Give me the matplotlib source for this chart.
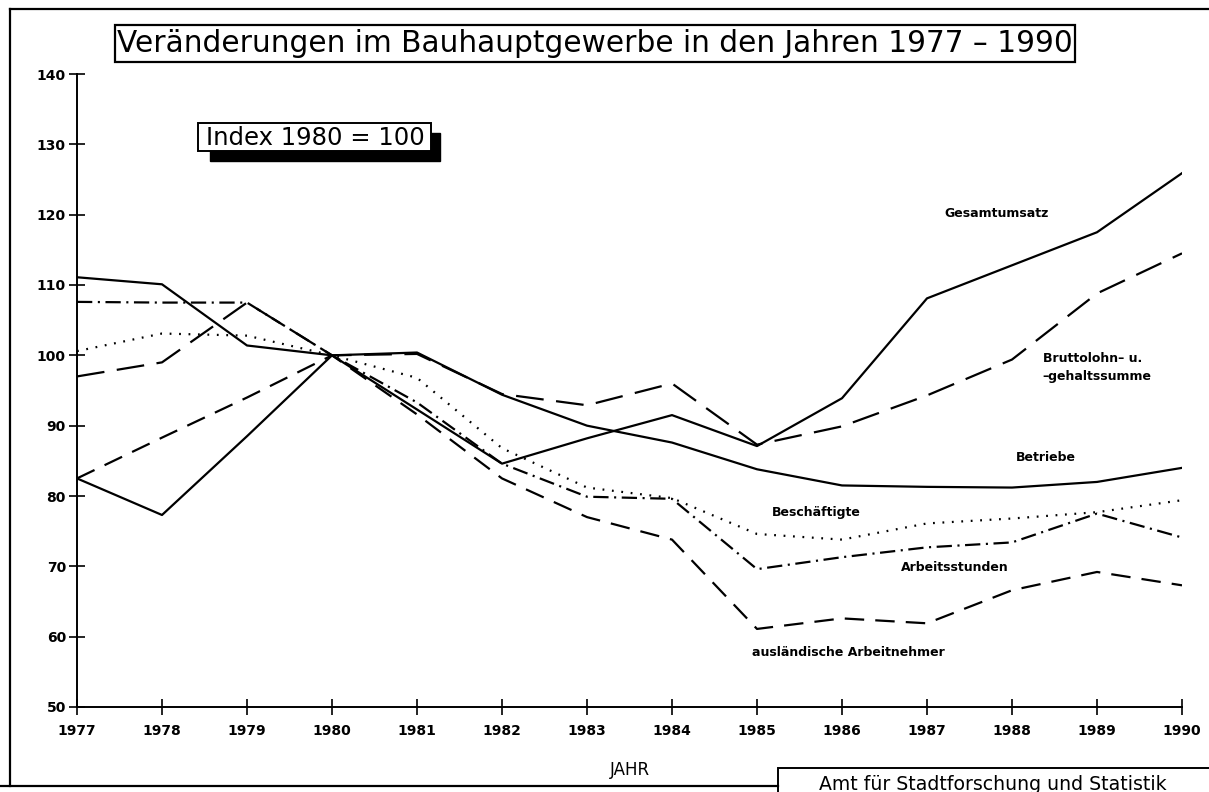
import matplotlib
matplotlib.use("Agg")
import matplotlib.pyplot as plt
from matplotlib.lines import Line2D
from matplotlib.patches import Rectangle

plt.rcParams['font.family'] = ['DejaVu Sans']
plt.rcParams['lines.scale_dashes'] = False

years = list(range(1977, 1991))
gesamtumsatz = [82.5, 77.3, 88.5, 100, 92.3, 84.6, 88.2, 91.5, 87.1, 93.9, 108.1, 112.8, 117.5, 125.9]
betriebe = [111.1, 110.1, 101.4, 100, 100.4, 94.4, 90.0, 87.6, 83.8, 81.5, 81.3, 81.2, 82.0, 84.0]
bruttolohn = [97.0, 99.0, 107.5, 100, 100.2, 94.5, 92.9, 96.0, 87.3, 89.9, 94.3, 99.4, 108.8, 114.5]
beschaeftigte = [100.6, 103.1, 102.8, 100, 96.8, 86.8, 81.2, 79.7, 74.6, 73.8, 76.1, 76.8, 77.7, 79.4]
arbeitsstunden = [107.6, 107.5, 107.5, 100, 93.3, 84.6, 79.9, 79.6, 69.6, 71.3, 72.7, 73.4, 77.5, 74.1]
auslaender = [82.5, 88.3, 94.0, 100, 91.6, 82.5, 77.0, 73.8, 61.1, 62.6, 61.9, 66.6, 69.2, 67.3]

y_ticks = [50, 60, 70, 80, 90, 100, 110, 120, 130, 140]
x_tick_labels = [str(y) for y in years]

title = "Veränderungen im Bauhauptgewerbe in den Jahren 1977 – 1990"
index_text = "Index 1980 = 100"
x_label = "JAHR"
source = "Amt für Stadtforschung und Statistik"

W, H = 1209, 792
fig = plt.figure(figsize=(W / 100, H / 100), dpi=100)
ax = fig.add_axes([77/W, 1 - 707/H, (1182 - 77)/W, (707 - 74)/H])


def fx(px):
    return px / W


def fy(py):
    return 1 - py / H


lw = 1.6
ax.plot(years, gesamtumsatz, color='black', lw=lw, ls='-')
ax.plot(years, betriebe, color='black', lw=lw, ls='-')
ax.plot(years, bruttolohn, color='black', lw=lw, ls=(0, (20, 9)))
ax.plot(years, beschaeftigte, color='black', lw=lw, ls=(0, (1.3, 5.5)))
ax.plot(years, arbeitsstunden, color='black', lw=lw, ls=(0, (11, 4, 1.5, 4)))
ax.plot(years, auslaender, color='black', lw=lw, ls=(0, (14, 8)))

lab_kw = dict(fontsize=9, fontweight='bold', color='black')
ax.text(1987.82, 120.2, "Gesamtumsatz", ha='center', va='center', **lab_kw)
ax.text(1988.36, 98.3, "Bruttolohn– u.\n–gehaltssumme", ha='left', va='center',
        linespacing=1.55, **lab_kw)
ax.text(1988.4, 85.5, "Betriebe", ha='center', va='center', **lab_kw)
ax.text(1985.7, 77.7, "Beschäftigte", ha='center', va='center', **lab_kw)
ax.text(1987.33, 69.9, "Arbeitsstunden", ha='center', va='center', **lab_kw)
ax.text(1986.07, 57.8, "ausländische Arbeitnehmer", ha='center', va='center', **lab_kw)

ax.set_xlim(1977, 1990)
ax.set_ylim(50, 140)
ax.set_yticks(y_ticks)
ax.set_yticklabels([str(v) for v in y_ticks], fontsize=10, fontweight='bold')
ax.set_xticks(years)
ax.set_xticklabels(x_tick_labels, fontsize=10, fontweight='bold')
ax.tick_params(axis='both', direction='inout', length=12, width=1.2, color='black')
ax.tick_params(axis='y', pad=2)
ax.tick_params(axis='x', pad=6)
for s in ['top', 'right']:
    ax.spines[s].set_visible(False)
for s in ['left', 'bottom']:
    ax.spines[s].set_linewidth(1.4)
ax.set_xlabel(x_label, fontsize=12, labelpad=17)
ax.patch.set_alpha(0)

# title box
fig.add_artist(Rectangle((fx(115), fy(62)), fx(1075) - fx(115), fy(25) - fy(62),
                         transform=fig.transFigure, fc='white', ec='black', lw=1.6))
fig.text(fx(595), fy(44), title, ha='center', va='center', fontsize=21.3)

# index box with shadow
fig.add_artist(Rectangle((fx(210), fy(161)), fx(440) - fx(210), fy(133) - fy(161),
                         transform=fig.transFigure, fc='black', ec='black', zorder=2))
fig.add_artist(Rectangle((fx(198), fy(151)), fx(431) - fx(198), fy(123) - fy(151),
                         transform=fig.transFigure, fc='white', ec='black', lw=1.4, zorder=3))
fig.text(fx(315), fy(138), index_text, ha='center', va='center', fontsize=17.5, zorder=4)

# outer frame lines
fig.add_artist(Line2D([fx(10), 1.0], [fy(9), fy(9)], transform=fig.transFigure,
                      color='black', lw=1.6))
fig.add_artist(Line2D([fx(10), fx(10)], [fy(9), fy(786)], transform=fig.transFigure,
                      color='black', lw=1.6))
fig.add_artist(Line2D([0, fx(778)], [fy(786), fy(786)], transform=fig.transFigure,
                      color='black', lw=1.6))

# source box
fig.add_artist(Rectangle((fx(778), -0.01), 1.02 - fx(778), fy(768) + 0.01,
                         transform=fig.transFigure, fc='white', ec='black', lw=1.4))
fig.text(fx(993), fy(784), source, ha='center', va='center', fontsize=13.6)

fig.savefig('out.png', dpi=100)
